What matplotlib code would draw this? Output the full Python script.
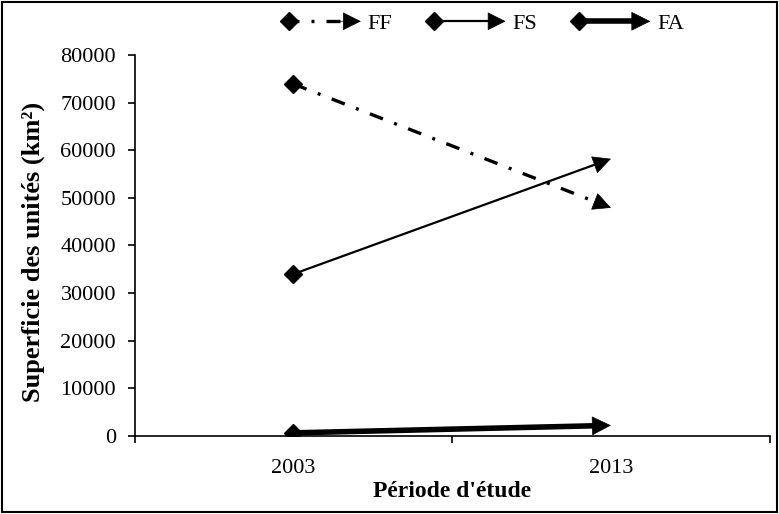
import numpy as np
import matplotlib
matplotlib.use("Agg")
import matplotlib.pyplot as plt
from matplotlib.lines import Line2D
from matplotlib.patches import FancyArrowPatch, Rectangle
from matplotlib.legend_handler import HandlerBase

plt.rcParams['font.family'] = ['Liberation Serif', 'DejaVu Serif']

periods = ['2003', '2013']
series = ['FF', 'FS', 'FA']
ff = [73900, 47900]
fs = [34000, 58200]
fa = [630, 2200]
values = [ff, fs, fa]

widths = [2.4, 1.6, 4.0]
styles = [(0, (4.2, 3.6, 0.9, 3.6)), '-', '-']
heads = [30, 30, 32]


class ArrowHandler(HandlerBase):
    def __init__(self, lw, ls, ms):
        super().__init__()
        self.lw, self.ls, self.ms = lw, ls, ms

    def create_artists(self, legend, orig, xd, yd, w, h, fs, trans):
        y = h / 2 - yd
        x0, x1 = -xd, -xd + w
        line = Line2D([x0, x1 - 12], [y, y], lw=self.lw, ls=self.ls, color='k',
                      solid_capstyle='butt', dash_capstyle='butt', transform=trans)
        mk = Line2D([x0 + 3], [y], marker='D', ms=9.5, color='k', ls='none', transform=trans)
        arr = FancyArrowPatch((x1 - 16, y), (x1, y), arrowstyle='-|>', mutation_scale=self.ms,
                              color='k', lw=0.5, shrinkA=0, shrinkB=0, transform=trans)
        return [line, mk, arr]


fig = plt.figure(figsize=(7.79, 5.14), dpi=100)
ax = fig.add_axes([0.173, 0.152, 0.815, 0.741])

x = np.arange(len(periods))
handles = []
hmap = {}
for name, v, lw, ls, hs in zip(series, values, widths, styles, heads):
    ax.plot(x[:1], v[:1], marker='D', ms=9, color='k', ls='none', zorder=4)
    v = np.array(v, dtype=float)
    # body of the line, stopping at the arrow head base
    tail = x[0] + 0.95 * (x[1] - x[0]), v[0] + 0.95 * (v[1] - v[0])
    ax.plot([x[0], tail[0]], [v[0], tail[1]], color='k', lw=lw, ls=ls,
            solid_capstyle='butt', dash_capstyle='butt', zorder=3)
    ax.annotate('', xy=(x[1], v[1]), xytext=tail,
                arrowprops=dict(arrowstyle='-|>', color='k', lw=0.5, shrinkA=0, shrinkB=0,
                                mutation_scale=hs), zorder=3)
    h = Line2D([], [], color='k')
    handles.append(h)
    hmap[h] = ArrowHandler(lw, ls, hs)

ax.set_xlim(-0.5, 1.5)
ax.set_ylim(0, 80000)
ax.set_yticks(np.arange(0, 80001, 10000))
ax.set_xticks(x)
ax.set_xticklabels(periods)
ax.set_xticks([-0.5, 0.5, 1.5], minor=True)
ax.tick_params(axis='x', which='major', length=0, pad=17, labelsize=16)
ax.tick_params(axis='x', which='minor', length=5, width=1.2)
ax.tick_params(axis='y', length=5, width=1.2, labelsize=16, pad=8.5)
for s in ['top', 'right']:
    ax.spines[s].set_visible(False)
for s in ['left', 'bottom']:
    ax.spines[s].set_linewidth(1.2)

ax.set_ylabel('Superficie des unités (km²)', fontsize=19, fontweight='bold')
ax.yaxis.set_label_coords(-0.142, 0.483)
ax.set_xlabel("Période d'étude", fontsize=17, fontweight='bold', labelpad=2)

ax.legend(handles, series, handler_map=hmap, loc='center', bbox_to_anchor=(0.551, 1.082),
          ncol=3, frameon=False, fontsize=16, handlelength=3.4, columnspacing=1.7,
          handletextpad=0.3, borderaxespad=0)

fig.patches.append(Rectangle((0.002, 0.003), 0.996, 0.994, transform=fig.transFigure,
                             fill=False, lw=1.5, ec='k'))

fig.savefig('out.png', dpi=100)
